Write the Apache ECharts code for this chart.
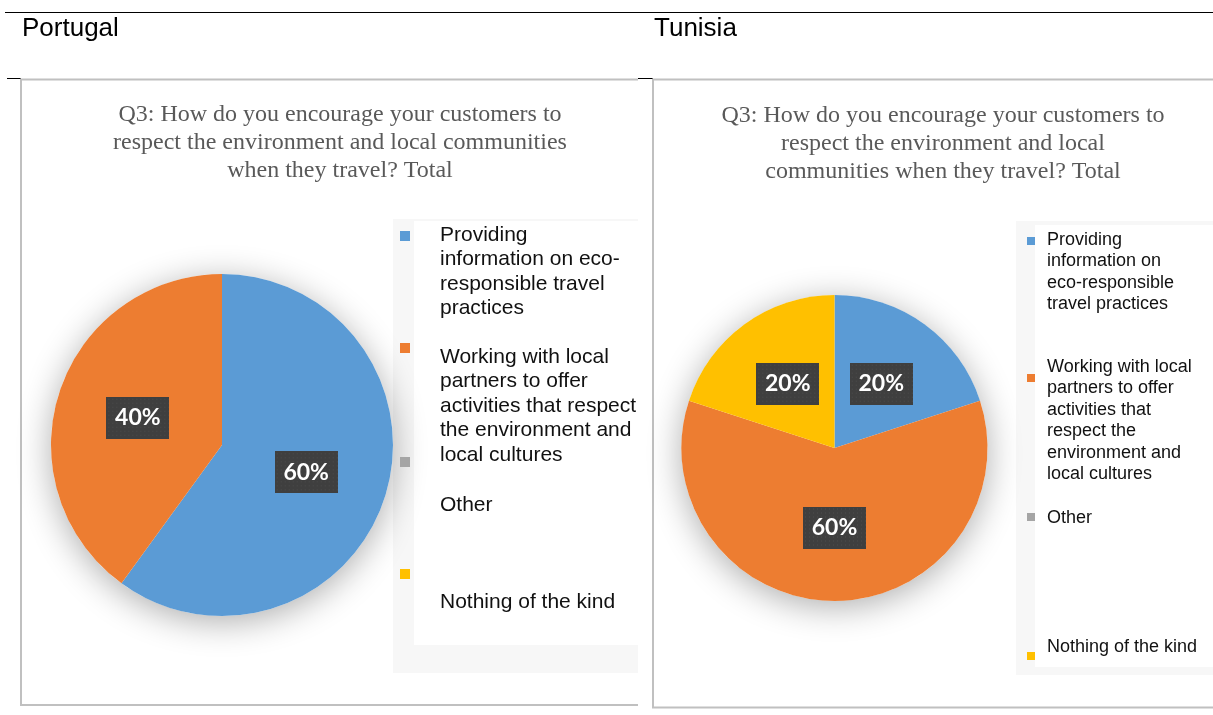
<!DOCTYPE html>
<html>
<head>
<meta charset="utf-8">
<title>Q3 – encouraging customers to respect the environment</title>
<script src="https://cdn.jsdelivr.net/npm/echarts@6/dist/echarts.min.js"></script>
<style>
  html, body { margin: 0; padding: 0; background: #ffffff; }
  #chart { width: 1213px; height: 715px; }
</style>
</head>
<body>
<div id="chart"></div>
<script>
// ---- data ----
const countries = ['Portugal', 'Tunisia'];
const categories = [
  'Providing information on eco-responsible travel practices',
  'Working with local partners to offer activities that respect the environment and local cultures',
  'Other',
  'Nothing of the kind'
];
const portugalValues = [60, 40, 0, 0];
const tunisiaValues = [20, 60, 0, 20];
const sliceColors = ['#5B9BD5', '#ED7D31', '#A5A5A5', '#FFC000'];

const portugalTitleLines = [
  'Q3: How do you encourage your customers to',
  'respect the environment and local communities',
  'when they travel? Total'
];
const tunisiaTitleLines = [
  'Q3: How do you encourage your customers to',
  'respect the environment and local',
  'communities when they travel? Total'
];
const portugalLegendLines = [
  ['Providing', 'information on eco-', 'responsible travel', 'practices'],
  ['Working with local', 'partners to offer', 'activities that respect', 'the environment and', 'local cultures'],
  ['Other'],
  ['Nothing of the kind']
];
const tunisiaLegendLines = [
  ['Providing', 'information on', 'eco-responsible', 'travel practices'],
  ['Working with local', 'partners to offer', 'activities that', 'respect the', 'environment and', 'local cultures'],
  ['Other'],
  ['Nothing of the kind']
];

// ---- layout of the two panels ----
const panels = [
  {
    values: portugalValues, titleLines: portugalTitleLines, legendLines: portugalLegendLines,
    center: [222, 445], radius: 171, titleX: 340, titleY: 101,
    legendBg: { x: 393, y: 219, w: 245, h: 454 }, legendInner: { x: 414, y: 221, w: 224, h: 424 },
    swatchX: 400, swatchSize: 10, swatchY: [231, 343, 457, 569],
    textX: 440, textFirstLine: [235, 357, 505, 602], fontSize: 21, lineHeight: 24.5
  },
  {
    values: tunisiaValues, titleLines: tunisiaTitleLines, legendLines: tunisiaLegendLines,
    center: [834.5, 448], radius: 153, titleX: 943, titleY: 102,
    legendBg: { x: 1016, y: 221, w: 197, h: 454 }, legendInner: { x: 1035, y: 225, w: 178, h: 442 },
    swatchX: 1027, swatchSize: 8, swatchY: [237, 374, 513, 652],
    textX: 1047, textFirstLine: [240, 367, 518, 647], fontSize: 18, lineHeight: 21.5
  }
];

const chart = echarts.init(document.getElementById('chart'), null, { renderer: 'canvas' });

// dark, finely dotted box behind the percentage labels
function labelTexture(w, h) {
  const c = document.createElement('canvas');
  c.width = w; c.height = h;
  const g = c.getContext('2d');
  g.fillStyle = '#3f3f3f';
  g.fillRect(0, 0, w, h);
  g.fillStyle = '#4d4d4d';
  for (let y = 2; y < h; y += 4) {
    for (let x = 2; x < w; x += 4) g.fillRect(x, y, 1, 1);
  }
  return c;
}
const labelBg = labelTexture(63, 42);

const graphic = [];
const series = [];

// table rules
graphic.push(
  { type: 'line', z: 0, shape: { x1: 5, y1: 12.5, x2: 1213, y2: 12.5 }, style: { stroke: '#000', lineWidth: 1 } },
  { type: 'line', z: 0, shape: { x1: 7, y1: 78.5, x2: 21, y2: 78.5 }, style: { stroke: '#000', lineWidth: 1 } },
  { type: 'line', z: 0, shape: { x1: 638, y1: 78.5, x2: 653, y2: 78.5 }, style: { stroke: '#000', lineWidth: 1 } }
);
// panel frames
graphic.push(
  { type: 'rect', z: 1, shape: { x: 20, y: 79, width: 618, height: 627 }, style: { fill: '#fff' } },
  { type: 'polyline', z: 1, shape: { points: [[638, 79.5], [21, 79.5], [21, 705], [638, 705]] }, style: { fill: null, stroke: '#C0C0C0', lineWidth: 2 } },
  { type: 'rect', z: 1, shape: { x: 653, y: 79.5, width: 580, height: 628 }, style: { fill: '#fff', stroke: '#C0C0C0', lineWidth: 2 } }
);
// column headers
countries.forEach((name, i) => {
  graphic.push({
    type: 'text', z: 5, x: i === 0 ? 22 : 654, y: 29,
    style: { text: name, font: '26px "Liberation Sans", Arial, sans-serif', fill: '#000', verticalAlign: 'middle' }
  });
});

panels.forEach((p) => {
  // chart title
  graphic.push({
    type: 'text', z: 5, x: p.titleX, y: p.titleY,
    style: {
      text: p.titleLines.join('\n'), font: '24px "Liberation Serif", "Times New Roman", serif',
      fill: '#595959', align: 'center', verticalAlign: 'top', lineHeight: 28
    }
  });
  // legend boxes
  graphic.push(
    { type: 'rect', z: 2, shape: { x: p.legendBg.x, y: p.legendBg.y, width: p.legendBg.w, height: p.legendBg.h }, style: { fill: '#F7F7F7' } },
    { type: 'rect', z: 2, shape: { x: p.legendInner.x, y: p.legendInner.y, width: p.legendInner.w, height: p.legendInner.h }, style: { fill: '#FFFFFF' } }
  );
  categories.forEach((cat, i) => {
    graphic.push({
      type: 'rect', z: 6,
      shape: { x: p.swatchX, y: p.swatchY[i], width: p.swatchSize, height: p.swatchSize },
      style: { fill: sliceColors[i] }
    });
    graphic.push({
      type: 'text', z: 6, x: p.textX, y: p.textFirstLine[i] - p.lineHeight / 2,
      style: {
        text: p.legendLines[i].join('\n'),
        font: p.fontSize + 'px "Liberation Sans", Arial, sans-serif',
        fill: '#111', verticalAlign: 'top', lineHeight: p.lineHeight
      }
    });
  });

  // soft drop shadow under the whole pie
  series.push({
    type: 'pie', z: 3, silent: true, animation: false,
    center: p.center, radius: p.radius,
    label: { show: false }, labelLine: { show: false },
    emphasis: { disabled: true },
    data: [{
      value: 1, name: '',
      itemStyle: { color: '#fff', shadowBlur: 34, shadowColor: 'rgba(0,0,0,0.32)', shadowOffsetY: 6 }
    }]
  });
  // the pie itself
  series.push({
    type: 'pie', z: 4, animation: false,
    center: p.center, radius: p.radius,
    startAngle: 90, clockwise: true,
    avoidLabelOverlap: false,
    emphasis: { disabled: true },
    itemStyle: { borderWidth: 0 },
    label: {
      position: 'inside',
      formatter: (d) => d.value + '%',
      color: '#fff', fontFamily: 'Lato, "Open Sans", sans-serif', fontWeight: 'bold', fontSize: 23,
      backgroundColor: { image: labelBg },
      width: 47, height: 24, lineHeight: 24, align: 'center', verticalAlign: 'middle',
      padding: [9, 8, 9, 8],
      shadowColor: 'rgba(0,0,0,0.5)', shadowBlur: 6, shadowOffsetX: 3, shadowOffsetY: 3
    },
    labelLine: { show: false },
    data: categories.map((name, i) => ({
      name, value: p.values[i],
      itemStyle: { color: sliceColors[i] },
      label: { show: p.values[i] > 0 }
    }))
  });
});

chart.setOption({
  animation: false,
  tooltip: { show: false },
  graphic: graphic,
  series: series
});
</script>
</body>
</html>
